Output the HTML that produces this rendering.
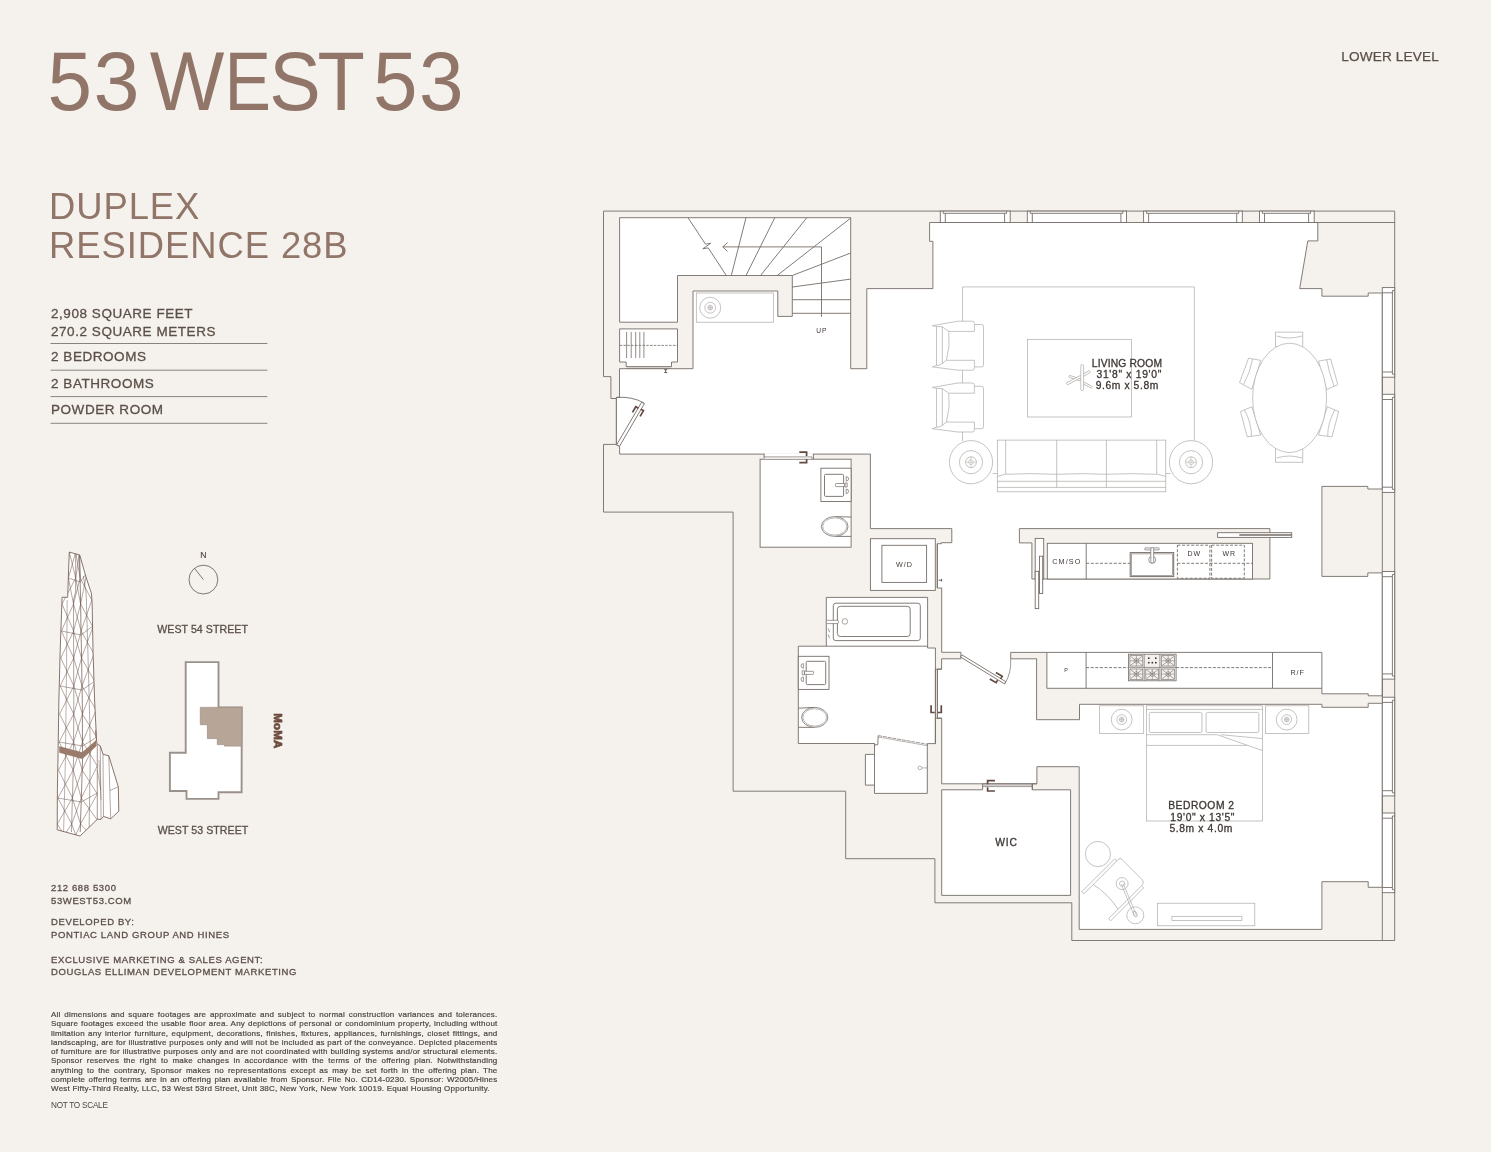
<!DOCTYPE html>
<html lang="en">
<head>
<meta charset="utf-8">
<title>53 West 53 - Duplex Residence 28B - Lower Level</title>
<style>
html,body{margin:0;padding:0;}
body{width:1491px;height:1152px;overflow:hidden;background:#f5f2ed;position:relative;font-family:"Liberation Sans",sans-serif;}
svg{position:absolute;left:0;top:0;will-change:transform;}
svg text{font-family:"Liberation Sans",sans-serif;}
.disc{will-change:transform;position:absolute;left:51.2px;top:1009.6px;width:446.5px;font-size:8px;letter-spacing:0.225px;line-height:9.275px;color:#4d4541;-webkit-text-stroke:0.2px #4d4541;}
.disc div{text-align:justify;text-align-last:justify;white-space:nowrap;height:9.275px;}
.disc div.last{text-align-last:left;}
.nts{will-change:transform;position:absolute;left:51px;top:1101.1px;font-size:8.2px;line-height:10px;color:#4d4541;letter-spacing:-0.25px;}
</style>
</head>
<body>
<svg width="1491" height="1152" viewBox="0 0 1491 1152">
<g id="plan" stroke-linejoin="miter">
<polygon points="603.5,211.1 1394.7,211.1 1394.7,940.5 1071.8,940.5 1071.8,902.8 934.9,902.8 934.9,858.7 845.7,858.7 845.7,791.2 733.1,791.2 733.1,512.1 603.5,512.1 603.5,444.4 616.4,444.4 616.4,398.5 610.9,398.5 610.9,376.6 603.5,376.6" fill="#f5f2ed" stroke="#756d68" stroke-width="0.9" />
<polygon points="619.6,217.7 850.7,217.7 850.7,368.7 866.8,368.7 866.8,288.6 932.9,288.6 932.9,241.3 929.6,241.3 929.6,222.5 1317.8,222.5 1317.8,240.9 1307.8,240.9 1299.7,288.6 1321.9,288.6 1321.9,296.2 1368.2,296.2 1368.2,293.0 1382.3,293.0 1382.3,489.0 1367.8,489.0 1367.8,486.4 1321.9,486.4 1321.9,576.4 1367.8,576.4 1367.8,572.9 1382.3,572.9 1382.3,887.3 1368.2,887.3 1368.2,881.7 1321.9,881.7 1321.9,929.4 1079.2,929.4 1079.2,766.7 1036.9,766.7 1036.9,783.8 941.7,783.8 941.7,718.2 937.4,718.2 937.4,669.2 941.6,669.2 941.6,658.8 960.9,658.8 960.9,652.3 941.7,652.3 941.7,588.0 937.3,588.0 937.3,543.7 941.3,543.7 941.3,542.7 951.8,542.7 951.8,528.6 870.4,528.6 870.4,454.1 619.6,454.1 619.6,446.3 616.4,445.0 616.4,397.4 619.5,397.4 619.5,368.7 693.0,368.7 693.0,291.0 777.8,291.0 777.8,316.4 792.3,316.4 792.3,275.5 677.5,275.5 677.5,322.2 619.6,322.2" fill="#ffffff" stroke="#756d68" stroke-width="0.9" />
<rect x="940.3" y="211.1" width="69.9" height="11.4" rx="0" fill="#ffffff" stroke="#756d68" stroke-width="0.9" />
<line x1="943.2" y1="213.3" x2="1006.6" y2="213.3" stroke="#756d68" stroke-width="0.9" />
<line x1="943.2" y1="211.1" x2="943.2" y2="213.3" stroke="#756d68" stroke-width="0.9" />
<line x1="1006.6" y1="211.1" x2="1006.6" y2="213.3" stroke="#756d68" stroke-width="0.9" />
<line x1="945.3" y1="213.3" x2="945.3" y2="222.5" stroke="#756d68" stroke-width="0.9" />
<line x1="1004.6" y1="213.3" x2="1004.6" y2="222.5" stroke="#756d68" stroke-width="0.9" />
<rect x="1027.3" y="211.1" width="99.2" height="11.4" rx="0" fill="#ffffff" stroke="#756d68" stroke-width="0.9" />
<line x1="1030.2" y1="213.3" x2="1122.9" y2="213.3" stroke="#756d68" stroke-width="0.9" />
<line x1="1030.2" y1="211.1" x2="1030.2" y2="213.3" stroke="#756d68" stroke-width="0.9" />
<line x1="1122.9" y1="211.1" x2="1122.9" y2="213.3" stroke="#756d68" stroke-width="0.9" />
<line x1="1032.3" y1="213.3" x2="1032.3" y2="222.5" stroke="#756d68" stroke-width="0.9" />
<line x1="1120.9" y1="213.3" x2="1120.9" y2="222.5" stroke="#756d68" stroke-width="0.9" />
<rect x="1143.6" y="211.1" width="98.7" height="11.4" rx="0" fill="#ffffff" stroke="#756d68" stroke-width="0.9" />
<line x1="1146.5" y1="213.3" x2="1238.7" y2="213.3" stroke="#756d68" stroke-width="0.9" />
<line x1="1146.5" y1="211.1" x2="1146.5" y2="213.3" stroke="#756d68" stroke-width="0.9" />
<line x1="1238.7" y1="211.1" x2="1238.7" y2="213.3" stroke="#756d68" stroke-width="0.9" />
<line x1="1148.6" y1="213.3" x2="1148.6" y2="222.5" stroke="#756d68" stroke-width="0.9" />
<line x1="1236.7" y1="213.3" x2="1236.7" y2="222.5" stroke="#756d68" stroke-width="0.9" />
<rect x="1259.5" y="211.1" width="54.7" height="11.4" rx="0" fill="#ffffff" stroke="#756d68" stroke-width="0.9" />
<line x1="1262.4" y1="213.3" x2="1310.6" y2="213.3" stroke="#756d68" stroke-width="0.9" />
<line x1="1262.4" y1="211.1" x2="1262.4" y2="213.3" stroke="#756d68" stroke-width="0.9" />
<line x1="1310.6" y1="211.1" x2="1310.6" y2="213.3" stroke="#756d68" stroke-width="0.9" />
<line x1="1264.5" y1="213.3" x2="1264.5" y2="222.5" stroke="#756d68" stroke-width="0.9" />
<line x1="1308.6" y1="213.3" x2="1308.6" y2="222.5" stroke="#756d68" stroke-width="0.9" />
<line x1="1314.2" y1="222.5" x2="1394.7" y2="222.5" stroke="#756d68" stroke-width="0.9" />
<rect x="1382.3" y="287.6" width="12.4" height="89.6" rx="0" fill="#ffffff" stroke="#756d68" stroke-width="0.9" />
<line x1="1392.4" y1="290.6" x2="1392.4" y2="374.2" stroke="#756d68" stroke-width="0.9" />
<line x1="1392.4" y1="290.6" x2="1394.7" y2="290.6" stroke="#756d68" stroke-width="0.9" />
<line x1="1392.4" y1="374.2" x2="1394.7" y2="374.2" stroke="#756d68" stroke-width="0.9" />
<line x1="1382.3" y1="292.8" x2="1392.4" y2="292.8" stroke="#756d68" stroke-width="0.9" />
<line x1="1382.3" y1="372.0" x2="1392.4" y2="372.0" stroke="#756d68" stroke-width="0.9" />
<rect x="1382.3" y="394.3" width="12.4" height="98.1" rx="0" fill="#ffffff" stroke="#756d68" stroke-width="0.9" />
<line x1="1392.4" y1="397.3" x2="1392.4" y2="489.4" stroke="#756d68" stroke-width="0.9" />
<line x1="1392.4" y1="397.3" x2="1394.7" y2="397.3" stroke="#756d68" stroke-width="0.9" />
<line x1="1392.4" y1="489.4" x2="1394.7" y2="489.4" stroke="#756d68" stroke-width="0.9" />
<line x1="1382.3" y1="399.5" x2="1392.4" y2="399.5" stroke="#756d68" stroke-width="0.9" />
<line x1="1382.3" y1="487.2" x2="1392.4" y2="487.2" stroke="#756d68" stroke-width="0.9" />
<rect x="1382.3" y="571.5" width="12.4" height="107.6" rx="0" fill="#ffffff" stroke="#756d68" stroke-width="0.9" />
<line x1="1392.4" y1="574.5" x2="1392.4" y2="676.1" stroke="#756d68" stroke-width="0.9" />
<line x1="1392.4" y1="574.5" x2="1394.7" y2="574.5" stroke="#756d68" stroke-width="0.9" />
<line x1="1392.4" y1="676.1" x2="1394.7" y2="676.1" stroke="#756d68" stroke-width="0.9" />
<line x1="1382.3" y1="576.7" x2="1392.4" y2="576.7" stroke="#756d68" stroke-width="0.9" />
<line x1="1382.3" y1="673.9" x2="1392.4" y2="673.9" stroke="#756d68" stroke-width="0.9" />
<rect x="1382.3" y="697.2" width="12.4" height="98.7" rx="0" fill="#ffffff" stroke="#756d68" stroke-width="0.9" />
<line x1="1392.4" y1="700.2" x2="1392.4" y2="792.9" stroke="#756d68" stroke-width="0.9" />
<line x1="1392.4" y1="700.2" x2="1394.7" y2="700.2" stroke="#756d68" stroke-width="0.9" />
<line x1="1392.4" y1="792.9" x2="1394.7" y2="792.9" stroke="#756d68" stroke-width="0.9" />
<line x1="1382.3" y1="702.4" x2="1392.4" y2="702.4" stroke="#756d68" stroke-width="0.9" />
<line x1="1382.3" y1="790.7" x2="1392.4" y2="790.7" stroke="#756d68" stroke-width="0.9" />
<rect x="1382.3" y="813.0" width="12.4" height="79.7" rx="0" fill="#ffffff" stroke="#756d68" stroke-width="0.9" />
<line x1="1392.4" y1="816.0" x2="1392.4" y2="889.7" stroke="#756d68" stroke-width="0.9" />
<line x1="1392.4" y1="816.0" x2="1394.7" y2="816.0" stroke="#756d68" stroke-width="0.9" />
<line x1="1392.4" y1="889.7" x2="1394.7" y2="889.7" stroke="#756d68" stroke-width="0.9" />
<line x1="1382.3" y1="818.2" x2="1392.4" y2="818.2" stroke="#756d68" stroke-width="0.9" />
<line x1="1382.3" y1="887.5" x2="1392.4" y2="887.5" stroke="#756d68" stroke-width="0.9" />
<line x1="1382.3" y1="377.2" x2="1382.3" y2="394.3" stroke="#756d68" stroke-width="0.9" />
<line x1="1382.3" y1="492.4" x2="1382.3" y2="571.5" stroke="#756d68" stroke-width="0.9" />
<line x1="1382.3" y1="679.1" x2="1382.3" y2="697.2" stroke="#756d68" stroke-width="0.9" />
<line x1="1382.3" y1="795.9" x2="1382.3" y2="813.0" stroke="#756d68" stroke-width="0.9" />
<line x1="1382.3" y1="892.7" x2="1382.3" y2="940.5" stroke="#756d68" stroke-width="0.9" />
<polygon points="1010.7,652.4 1046.9,652.4 1046.9,688.3 1321.9,688.3 1321.9,693.8 1368.2,693.8 1368.2,695.8 1382.3,695.8 1382.3,703.3 1368.2,703.3 1368.2,707.3 1321.9,707.3 1321.9,704.3 1079.5,704.3 1079.5,719.7 1036.6,719.7 1036.6,658.8 1010.7,658.8" fill="#f5f2ed" stroke="#756d68" stroke-width="0.9" />
<line x1="1046.9" y1="652.4" x2="1321.9" y2="652.4" stroke="#756d68" stroke-width="0.9" />
<line x1="1321.9" y1="652.4" x2="1321.9" y2="688.3" stroke="#756d68" stroke-width="0.9" />
<line x1="1086.1" y1="652.4" x2="1086.1" y2="688.3" stroke="#756d68" stroke-width="0.9" />
<line x1="1272.5" y1="652.4" x2="1272.5" y2="688.3" stroke="#756d68" stroke-width="0.9" />
<line x1="1086.1" y1="667.6" x2="1128.4" y2="667.6" stroke="#756d68" stroke-width="0.9" stroke-dasharray="3 1.6"/>
<line x1="1176.1" y1="667.6" x2="1272.5" y2="667.6" stroke="#756d68" stroke-width="0.9" stroke-dasharray="3 1.6"/>
<rect x="1128.4" y="654.2" width="47.7" height="26.6" rx="0" fill="#f3f1ef" stroke="#756d68" stroke-width="0.8" />
<rect x="1129.9" y="655.7" width="12.9" height="10.3" rx="0" fill="none" stroke="#756d68" stroke-width="0.6" />
<line x1="1130.4" y1="656.2" x2="1142.3" y2="665.5" stroke="#756d68" stroke-width="0.6" />
<line x1="1142.3" y1="656.2" x2="1130.4" y2="665.5" stroke="#756d68" stroke-width="0.6" />
<line x1="1136.4" y1="655.7" x2="1136.4" y2="666.0" stroke="#756d68" stroke-width="0.5" />
<line x1="1129.9" y1="660.8" x2="1142.8" y2="660.8" stroke="#756d68" stroke-width="0.5" />
<circle cx="1136.4" cy="660.8" r="2.4" fill="none" stroke="#756d68" stroke-width="0.5"/>
<rect x="1129.9" y="669.0" width="12.9" height="10.3" rx="0" fill="none" stroke="#756d68" stroke-width="0.6" />
<line x1="1130.4" y1="669.5" x2="1142.3" y2="678.8" stroke="#756d68" stroke-width="0.6" />
<line x1="1142.3" y1="669.5" x2="1130.4" y2="678.8" stroke="#756d68" stroke-width="0.6" />
<line x1="1136.4" y1="669.0" x2="1136.4" y2="679.3" stroke="#756d68" stroke-width="0.5" />
<line x1="1129.9" y1="674.1" x2="1142.8" y2="674.1" stroke="#756d68" stroke-width="0.5" />
<circle cx="1136.4" cy="674.1" r="2.4" fill="none" stroke="#756d68" stroke-width="0.5"/>
<circle cx="1148.8" cy="658.2" r="0.9" fill="#3d3531"/>
<circle cx="1155.8" cy="658.2" r="0.9" fill="#3d3531"/>
<circle cx="1148.8" cy="662.7" r="0.9" fill="#3d3531"/>
<circle cx="1152.3" cy="662.7" r="0.9" fill="#3d3531"/>
<circle cx="1155.8" cy="662.7" r="0.9" fill="#3d3531"/>
<rect x="1145.8" y="669.0" width="12.9" height="10.3" rx="0" fill="none" stroke="#756d68" stroke-width="0.6" />
<line x1="1146.3" y1="669.5" x2="1158.2" y2="678.8" stroke="#756d68" stroke-width="0.6" />
<line x1="1158.2" y1="669.5" x2="1146.3" y2="678.8" stroke="#756d68" stroke-width="0.6" />
<line x1="1152.3" y1="669.0" x2="1152.3" y2="679.3" stroke="#756d68" stroke-width="0.5" />
<line x1="1145.8" y1="674.1" x2="1158.7" y2="674.1" stroke="#756d68" stroke-width="0.5" />
<circle cx="1152.3" cy="674.1" r="2.4" fill="none" stroke="#756d68" stroke-width="0.5"/>
<rect x="1161.7" y="655.7" width="12.9" height="10.3" rx="0" fill="none" stroke="#756d68" stroke-width="0.6" />
<line x1="1162.2" y1="656.2" x2="1174.1" y2="665.5" stroke="#756d68" stroke-width="0.6" />
<line x1="1174.1" y1="656.2" x2="1162.2" y2="665.5" stroke="#756d68" stroke-width="0.6" />
<line x1="1168.2" y1="655.7" x2="1168.2" y2="666.0" stroke="#756d68" stroke-width="0.5" />
<line x1="1161.7" y1="660.8" x2="1174.6" y2="660.8" stroke="#756d68" stroke-width="0.5" />
<circle cx="1168.2" cy="660.8" r="2.4" fill="none" stroke="#756d68" stroke-width="0.5"/>
<rect x="1161.7" y="669.0" width="12.9" height="10.3" rx="0" fill="none" stroke="#756d68" stroke-width="0.6" />
<line x1="1162.2" y1="669.5" x2="1174.1" y2="678.8" stroke="#756d68" stroke-width="0.6" />
<line x1="1174.1" y1="669.5" x2="1162.2" y2="678.8" stroke="#756d68" stroke-width="0.6" />
<line x1="1168.2" y1="669.0" x2="1168.2" y2="679.3" stroke="#756d68" stroke-width="0.5" />
<line x1="1161.7" y1="674.1" x2="1174.6" y2="674.1" stroke="#756d68" stroke-width="0.5" />
<circle cx="1168.2" cy="674.1" r="2.4" fill="none" stroke="#756d68" stroke-width="0.5"/>
<line x1="1144.2" y1="654.2" x2="1144.2" y2="680.8" stroke="#756d68" stroke-width="0.7" />
<line x1="1159.9" y1="654.2" x2="1159.9" y2="680.8" stroke="#756d68" stroke-width="0.7" />
<line x1="1128.4" y1="667.4" x2="1176.1" y2="667.4" stroke="#756d68" stroke-width="0.7" />
<polygon points="1019.4,528.6 1269.9,528.6 1269.9,579.0 1031.9,579.0 1031.9,542.9 1019.4,542.9" fill="#f5f2ed" stroke="#756d68" stroke-width="0.9" />
<rect x="1047.3" y="543.3" width="205.2" height="35.7" rx="0" fill="#ffffff" stroke="#756d68" stroke-width="0.9" />
<line x1="1086.2" y1="543.3" x2="1086.2" y2="579.0" stroke="#756d68" stroke-width="0.9" />
<line x1="1086.2" y1="563.3" x2="1130.2" y2="563.3" stroke="#756d68" stroke-width="0.9" stroke-dasharray="3 1.6"/>
<rect x="1130.2" y="552.6" width="43.5" height="24.0" rx="0" fill="#ffffff" stroke="#756d68" stroke-width="1.0" />
<rect x="1131.5" y="553.9" width="40.9" height="21.4" rx="0" fill="#ffffff" stroke="#756d68" stroke-width="0.6" />
<circle cx="1152.2" cy="559.8" r="3.5" fill="#ffffff" stroke="#756d68" stroke-width="0.7"/>
<rect x="1144.7" y="547.9" width="14.6" height="2.0" rx="0.8" fill="#ffffff" stroke="#756d68" stroke-width="0.7" />
<rect x="1150.8" y="547.6" width="2.9" height="15.4" rx="1.3" fill="#ffffff" stroke="#756d68" stroke-width="0.7" />
<rect x="1177.4" y="545.2" width="32.5" height="33.1" rx="0" fill="none" stroke="#756d68" stroke-width="0.9" stroke-dasharray="3 1.6"/>
<rect x="1211.6" y="545.2" width="32.7" height="33.1" rx="0" fill="none" stroke="#756d68" stroke-width="0.9" stroke-dasharray="3 1.6"/>
<line x1="1177.4" y1="563.3" x2="1252.5" y2="563.3" stroke="#756d68" stroke-width="0.9" stroke-dasharray="3 1.6"/>
<rect x="1035.2" y="538.4" width="8.5" height="40.6" rx="0" fill="#ffffff" stroke="#756d68" stroke-width="0.9" />
<rect x="1039.5" y="556.2" width="3.2" height="37.3" rx="0" fill="#ffffff" stroke="#756d68" stroke-width="0.9" />
<rect x="1035.2" y="571.3" width="3.5" height="37.3" rx="0" fill="#ffffff" stroke="#756d68" stroke-width="0.9" />
<rect x="1217.6" y="532.7" width="74.1" height="4.7" rx="0" fill="#ffffff" stroke="#756d68" stroke-width="0.9" />
<line x1="1239.3" y1="535.0" x2="1291.7" y2="535.0" stroke="#756d68" stroke-width="1.6" />
<line x1="792.3" y1="313.3" x2="850.7" y2="313.3" stroke="#756d68" stroke-width="0.9" />
<line x1="792.3" y1="299.7" x2="850.7" y2="299.7" stroke="#756d68" stroke-width="0.9" />
<line x1="792.3" y1="287.0" x2="850.7" y2="279.1" stroke="#756d68" stroke-width="0.9" />
<line x1="792.3" y1="275.5" x2="850.7" y2="253.0" stroke="#756d68" stroke-width="0.9" />
<line x1="777.2" y1="275.5" x2="850.7" y2="218.1" stroke="#756d68" stroke-width="0.9" />
<line x1="760.5" y1="275.5" x2="806.8" y2="217.7" stroke="#756d68" stroke-width="0.9" />
<line x1="746.0" y1="275.5" x2="774.8" y2="217.7" stroke="#756d68" stroke-width="0.9" />
<line x1="731.3" y1="275.5" x2="746.0" y2="217.7" stroke="#756d68" stroke-width="0.9" />
<polyline points="688.0,217.7 705.5,244.2 710.8,243.2 702.8,248.8 708.2,247.9 726.3,275.5" fill="none" stroke="#756d68" stroke-width="0.9" />
<polyline points="722.8,246.9 821.5,246.9 821.5,316.8" fill="none" stroke="#756d68" stroke-width="0.9" />
<polyline points="727.5,242.6 722.8,246.9 727.5,251.5" fill="none" stroke="#756d68" stroke-width="0.9" />
<polygon points="619.6,328.9 677.5,328.9 677.5,362.0 671.5,362.0 671.5,366.6 626.2,366.6 626.2,362.0 619.6,362.0" fill="#ffffff" stroke="#756d68" stroke-width="0.9" />
<line x1="626.6" y1="331.9" x2="626.6" y2="358.0" stroke="#756d68" stroke-width="0.8" />
<line x1="631.2" y1="331.9" x2="631.2" y2="358.0" stroke="#756d68" stroke-width="0.8" />
<line x1="635.7" y1="331.9" x2="635.7" y2="358.0" stroke="#756d68" stroke-width="0.8" />
<line x1="639.8" y1="331.9" x2="639.8" y2="358.0" stroke="#756d68" stroke-width="0.8" />
<line x1="643.9" y1="331.9" x2="643.9" y2="358.0" stroke="#756d68" stroke-width="0.8" />
<line x1="619.6" y1="345.4" x2="677.5" y2="345.4" stroke="#756d68" stroke-width="0.8" stroke-dasharray="2.6 1.2"/>
<line x1="626.2" y1="368.2" x2="671.5" y2="368.2" stroke="#756d68" stroke-width="0.6" />
<path d="M616.4,397.4 Q632,396.2 644.0,403.0" fill="none" stroke="#756d68" stroke-width="0.9" />
<polygon points="641.6,402.3 644.4,403.6 619.5,446.3 616.7,444.7" fill="#ffffff" stroke="#756d68" stroke-width="0.9" />
<rect x="760.1" y="459.2" width="91.0" height="88.0" rx="0" fill="#ffffff" stroke="#756d68" stroke-width="0.9" />
<rect x="820.9" y="468.2" width="30.2" height="33.3" rx="0" fill="#ffffff" stroke="#756d68" stroke-width="0.9" />
<rect x="824.5" y="474.3" width="19.1" height="22.1" rx="1.2" fill="#ffffff" stroke="#756d68" stroke-width="0.9" />
<line x1="851.1" y1="517.0" x2="835.0" y2="516.7" stroke="#756d68" stroke-width="0.9" />
<line x1="851.1" y1="536.4" x2="835.0" y2="536.4" stroke="#756d68" stroke-width="0.9" />
<ellipse cx="834.7" cy="526.5" rx="13.3" ry="9.9" fill="#ffffff" stroke="#756d68" stroke-width="0.8" />
<ellipse cx="834.7" cy="526.5" rx="12.0" ry="8.6" fill="#ffffff" stroke="#756d68" stroke-width="0.5" />
<rect x="764.6" y="453.2" width="48.3" height="5.4" fill="#fff" stroke="none"/>
<polyline points="764.1,454.1 764.1,458.3" fill="none" stroke="#756d68" stroke-width="0.9" />
<polyline points="813.4,454.1 813.4,459.2" fill="none" stroke="#756d68" stroke-width="0.9" />
<line x1="764.1" y1="456.9" x2="812.0" y2="456.9" stroke="#756d68" stroke-width="0.7" />
<line x1="812.0" y1="456.9" x2="812.0" y2="459.2" stroke="#756d68" stroke-width="0.7" />
<rect x="870.4" y="538.7" width="64.9" height="51.7" rx="0" fill="#ffffff" stroke="#756d68" stroke-width="0.9" />
<rect x="881.9" y="545.3" width="44.7" height="37.1" rx="0" fill="#ffffff" stroke="#756d68" stroke-width="0.9" />
<line x1="937.3" y1="543.7" x2="937.3" y2="588.0" stroke="#756d68" stroke-width="0.9" />
<polygon points="826.3,597.4 927.6,597.4 927.6,648.0 935.4,648.0 935.4,743.6 927.3,743.6 927.3,793.4 874.5,793.4 874.5,785.1 865.4,785.1 865.4,754.4 874.5,754.4 874.5,743.5 798.3,743.5 798.3,646.2 826.3,646.2" fill="#ffffff" stroke="#756d68" stroke-width="0.9" />
<line x1="826.3" y1="646.2" x2="927.6" y2="646.2" stroke="#756d68" stroke-width="0.9" />
<rect x="833.3" y="603.2" width="87.0" height="37.4" rx="2.5" fill="#ffffff" stroke="#756d68" stroke-width="0.9" />
<rect x="837.4" y="606.3" width="72.8" height="30.2" rx="3" fill="#ffffff" stroke="#756d68" stroke-width="0.9" />
<rect x="826.3" y="620.3" width="12.1" height="3.3" rx="1" fill="#ffffff" stroke="#756d68" stroke-width="0.7" />
<circle cx="844.9" cy="621.4" r="2.8" fill="none" stroke="#756d68" stroke-width="0.6"/>
<rect x="798.3" y="656.3" width="30.7" height="33.1" rx="0" fill="#ffffff" stroke="#756d68" stroke-width="0.9" />
<rect x="806.2" y="661.3" width="19.5" height="23.3" rx="1.2" fill="#ffffff" stroke="#756d68" stroke-width="0.9" />
<line x1="798.3" y1="708.2" x2="814.0" y2="707.4" stroke="#756d68" stroke-width="0.9" />
<line x1="798.3" y1="727.3" x2="814.0" y2="727.4" stroke="#756d68" stroke-width="0.9" />
<ellipse cx="814.7" cy="717.4" rx="13.1" ry="10.0" fill="#ffffff" stroke="#756d68" stroke-width="0.8" />
<ellipse cx="814.7" cy="717.4" rx="11.8" ry="8.7" fill="#ffffff" stroke="#756d68" stroke-width="0.5" />
<line x1="874.5" y1="754.4" x2="874.5" y2="785.1" stroke="#756d68" stroke-width="0.9" />
<polyline points="874.5,743.6 874.8,745.0 877.8,744.6 878.2,735.6" fill="none" stroke="#756d68" stroke-width="0.9" />
<line x1="878.2" y1="735.6" x2="927.3" y2="744.3" stroke="#756d68" stroke-width="0.7" stroke-dasharray="4 0.8"/>
<line x1="878.2" y1="737.0" x2="927.3" y2="745.7" stroke="#756d68" stroke-width="0.5" />
<circle cx="919.9" cy="767.9" r="1.8" fill="none" stroke="#756d68" stroke-width="0.5"/>
<line x1="922.0" y1="767.9" x2="927.3" y2="767.9" stroke="#756d68" stroke-width="0.5" />
<line x1="935.4" y1="669.2" x2="935.4" y2="718.2" stroke="#756d68" stroke-width="0.7" />
<line x1="937.4" y1="669.2" x2="937.4" y2="718.2" stroke="#756d68" stroke-width="0.7" />
<line x1="935.4" y1="743.6" x2="935.4" y2="718.2" stroke="#756d68" stroke-width="0.9" />
<polyline points="935.4,718.2 941.7,718.2" fill="none" stroke="#756d68" stroke-width="0.9" />
<polyline points="935.4,669.2 941.6,669.2" fill="none" stroke="#756d68" stroke-width="0.9" />
<polygon points="960.6,657.0 962.0,654.9 1005.8,681.7 1004.5,683.9" fill="#ffffff" stroke="#756d68" stroke-width="0.9" />
<path d="M1010.7,658.8 Q1011.5,672.5 1005.0,683.6" fill="none" stroke="#756d68" stroke-width="0.7" />
<polygon points="941.7,789.8 982.6,789.8 982.6,783.8 1032.3,783.8 1032.3,789.8 1070.6,789.8 1070.6,895.4 941.7,895.4" fill="#ffffff" stroke="#756d68" stroke-width="0.9" />
<line x1="982.6" y1="785.0" x2="1032.3" y2="785.0" stroke="#756d68" stroke-width="0.7" />
<line x1="982.6" y1="786.6" x2="1032.3" y2="786.6" stroke="#756d68" stroke-width="0.7" />
<polyline points="1036.9,783.8 1032.3,783.8 1032.3,789.8" fill="none" stroke="#756d68" stroke-width="0.9" />
<g transform="translate(936.2,712.5) rotate(90)" stroke="#624a43" stroke-width="1.7" fill="none" stroke-linejoin="miter"><path d="M0,-1.5 V-5.1 H-7.3 M0.0,1.5 V5.1 H-7.3"/></g>
<g transform="translate(1000.0,680.0) rotate(30.9)" stroke="#624a43" stroke-width="1.7" fill="none" stroke-linejoin="miter"><path d="M0,-1.3 V-4.3 H-7.3 M-2.0,1.3 V4.3 H-9.3"/></g>
<g transform="translate(987.6,785.8) rotate(180)" stroke="#624a43" stroke-width="1.7" fill="none" stroke-linejoin="miter"><path d="M0,-1.5 V-5.2 H-7.3 M0.0,1.5 V5.2 H-7.3"/></g>
<g transform="translate(806.6,457.4) rotate(0)" stroke="#624a43" stroke-width="1.7" fill="none" stroke-linejoin="miter"><path d="M0,-1.5 V-5.2 H-7.3 M0.0,1.5 V5.2 H-7.3"/></g>
<g transform="translate(639.5,408.9) rotate(-59.6)" stroke="#624a43" stroke-width="1.7" fill="none" stroke-linejoin="miter"><path d="M0,-1.3 V-4.3 H-6.6 M0.5,1.3 V4.3 H-6.1"/></g>
<path d="M664.2,369.7 h3 m-1.5,0 v2.8 m-1.5,0 h3" stroke="#624a43" stroke-width="0.9" fill="none"/>
<path d="M938.6,580.2 h3 m0,-1.3 v2.6" stroke="#624a43" stroke-width="0.9" fill="none"/>
<g stroke="#756d68" stroke-width="0.7" fill="none">
<rect x="835.5" y="483.5" width="9.2" height="3.1" rx="0.8" fill="#fff"/>
<path d="M846.2,476.6 q2.6,0.2 2.4,2.4 q-0.2,2 -2.4,2.2 z M846.2,489.0 q2.6,0.2 2.4,2.4 q-0.2,2 -2.4,2.2 z M845.0,483.0 h2.2 v4 h-2.2 z" fill="none"/>
<rect x="804.6" y="671.3" width="8.9" height="3.1" rx="0.8" fill="#fff"/>
<path d="M803.4,663.6 q-2.6,0.2 -2.4,2.4 q0.2,2 2.4,2.2 z M803.4,677.0 q-2.6,0.2 -2.4,2.4 q0.2,2 2.4,2.2 z M804.4,670.8 h-2.2 v4 h2.2 z" fill="none"/>
<path d="M828.2,628.5 l1.4,3.8 M828.2,634.5 l1.4,3.8"/>
</g>
<g stroke="#aeaaa7" stroke-width="0.7" fill="none">
<polyline points="1194.3,440.5 1194.3,286.9 962.5,286.9 962.5,441"/>
<rect x="1027.5" y="339.3" width="104.1" height="77.7" fill="#fff"/>
<g transform="translate(0,0.0)">
<rect x="936.5" y="326.0" width="40" height="40" fill="#fff" stroke="none"/>
<path d="M974.4,324.5 H981.5 Q983.5,324.5 983.5,326.5 V364.9 Q983.5,366.9 981.5,366.9 H974.4" fill="#fff"/>
<path d="M932.4,325.7 L957.9,321.2 H972.4 Q974.4,321.2 974.4,323.2 V331.4 H948.8 L942.3,326.8 L936.5,326.5 Z" fill="#fff"/>
<path d="M932.4,366.9 L957.9,370.2 H972.4 Q974.4,370.2 974.4,368.2 V360.3 H946.4 L940,365 L936.5,365.4 Z" fill="#fff"/>
<path d="M936.5,326.5 V365.4 M942.3,326.8 V364 M948.8,331.4 Q950.4,346 946.4,360.3"/>
</g>
<g transform="translate(0,61.8)">
<rect x="936.5" y="326.0" width="40" height="40" fill="#fff" stroke="none"/>
<path d="M974.4,324.5 H981.5 Q983.5,324.5 983.5,326.5 V364.9 Q983.5,366.9 981.5,366.9 H974.4" fill="#fff"/>
<path d="M932.4,325.7 L957.9,321.2 H972.4 Q974.4,321.2 974.4,323.2 V331.4 H948.8 L942.3,326.8 L936.5,326.5 Z" fill="#fff"/>
<path d="M932.4,366.9 L957.9,370.2 H972.4 Q974.4,370.2 974.4,368.2 V360.3 H946.4 L940,365 L936.5,365.4 Z" fill="#fff"/>
<path d="M936.5,326.5 V365.4 M942.3,326.8 V364 M948.8,331.4 Q950.4,346 946.4,360.3"/>
</g>
<circle cx="971.0" cy="462.2" r="21.6" fill="#fff"/>
<circle cx="971.0" cy="462.2" r="11.6"/>
<circle cx="971.0" cy="462.2" r="5.4"/>
<path d="M965.6,462.2 h10.8 M971.0,456.8 v10.8" stroke-width="0.5"/>
<circle cx="971.0" cy="462.2" r="2.4" stroke-width="0.5"/>
<circle cx="1191.0" cy="462.2" r="21.6" fill="#fff"/>
<circle cx="1191.0" cy="462.2" r="11.6"/>
<circle cx="1191.0" cy="462.2" r="5.4"/>
<path d="M1185.6,462.2 h10.8 M1191.0,456.8 v10.8" stroke-width="0.5"/>
<circle cx="1191.0" cy="462.2" r="2.4" stroke-width="0.5"/>
<rect x="997.3" y="440.1" width="168.5" height="51.7" fill="#fff"/>
<path d="M997.3,481.3 H1165.8 M997.3,487.4 H1165.8 M1056.7,440.1 V487.4 M1106.4,440.1 V487.4"/>
<path d="M1005.7,440.1 V474 L997.3,476.5 M1156.7,440.1 V474 L1165.8,476.5 M1005.7,474.3 Q1031,473 1056.7,474.3 Q1081,473 1106.4,474.3 Q1131,473 1156.7,474.3"/>
<path d="M992.6,473.5 H997.3 M1165.8,473.5 H1170.6"/>
<rect x="0" y="-1.0" width="12.3" height="2.0" rx="1.0" fill="#fff" transform="translate(1068.9,376.2) rotate(18.0)"/>
<rect x="0" y="-1.0" width="9.5" height="2.0" rx="1.0" fill="#fff" transform="translate(1083.5,383.0) rotate(27.6)"/>
<rect x="0" y="-1.1" width="26.6" height="2.2" rx="1.1" fill="#fff" transform="translate(1066.6,384.1) rotate(-28.3)"/>
<rect x="0" y="-1.4" width="26.1" height="2.8" rx="1.4" fill="#fff" transform="translate(1082.2,364.6) rotate(90.0)"/>
<rect x="1275.5" y="332.1" width="27.3" height="14.5" fill="#fff"/><path d="M1276.5,336 Q1289,340 1302,336"/>
<rect x="1275.5" y="448.8" width="27.3" height="13.4" fill="#fff"/><path d="M1276.5,458 Q1289,454 1302,458"/>
<polygon points="1248.6,358.1 1260.7,360.4 1251.9,389.3 1239.5,382.6" fill="#fff"/>
<path d="M1252.5,359.2 Q1250.5,372.0 1243.5,384.6"/>
<polygon points="1330.7,359.0 1318.5,361.1 1326.6,389.7 1337.8,384.6" fill="#fff"/>
<path d="M1326.8,360.0 Q1328.8,372.0 1334.0,386.2"/>
<polygon points="1240.5,411.5 1251.9,406.8 1260.7,435.1 1247.2,436.8" fill="#fff"/>
<path d="M1244.5,410.0 Q1251.5,423.0 1251.5,436.2"/>
<polygon points="1338.7,411.5 1327.3,406.8 1318.5,435.1 1332.0,436.8" fill="#fff"/>
<path d="M1334.7,410.0 Q1327.7,423.0 1327.7,436.2"/>
<ellipse cx="1289.6" cy="397.9" rx="37" ry="54.7" fill="#fff"/>
<rect x="696.3" y="293.0" width="77.3" height="29.2" fill="#fff"/>
<circle cx="710.2" cy="307.7" r="10.5" fill="#fff"/>
<circle cx="710.2" cy="307.7" r="5.4"/>
<circle cx="710.2" cy="307.7" r="2.4"/>
<path d="M707.8,307.7 h4.8 M710.2,305.3 v4.8" stroke-width="0.5"/>
<circle cx="710.2" cy="307.7" r="1.1" stroke-width="0.5"/>
<rect x="1099.4" y="705.8" width="44.3" height="27.8" fill="#fff"/>
<circle cx="1121.7" cy="719.6" r="10.4" fill="#fff"/>
<circle cx="1121.7" cy="719.6" r="4.9"/>
<circle cx="1121.7" cy="719.6" r="2.4"/>
<path d="M1119.3,719.6 h4.8 M1121.7,717.2 v4.8" stroke-width="0.5"/>
<circle cx="1121.7" cy="719.6" r="1.1" stroke-width="0.5"/>
<rect x="1265.5" y="705.8" width="43.3" height="27.8" fill="#fff"/>
<circle cx="1286.7" cy="719.6" r="10.4" fill="#fff"/>
<circle cx="1286.7" cy="719.6" r="4.9"/>
<circle cx="1286.7" cy="719.6" r="2.4"/>
<path d="M1284.3,719.6 h4.8 M1286.7,717.2 v4.8" stroke-width="0.5"/>
<circle cx="1286.7" cy="719.6" r="1.1" stroke-width="0.5"/>
<rect x="1146.4" y="705.8" width="116.2" height="115.2" fill="#fff"/>
<path d="M1146.4,709.4 H1262.6 M1146.4,734.7 H1217 M1146.4,745.4 H1247 M1217.2,734.7 L1262.6,750.6 M1221,734.7 L1262.6,738.6"/>
<rect x="1149.3" y="712.4" width="52.7" height="20.1" rx="1.5"/><rect x="1206.1" y="712.4" width="52.7" height="20.1" rx="1.5"/>
<rect x="1157.5" y="903.2" width="97.3" height="22.6" fill="#fff"/><rect x="1171.9" y="916.3" width="70" height="4.3"/>
<circle cx="1097.9" cy="854.0" r="12.6" fill="#fff"/>
<g transform="translate(1113.0,889.5) rotate(-45)">
<path d="M22.9,-17.5 H25 Q27.6,-17.5 27.6,-15 V12.5 Q27.6,17.5 23,17.5 H-23 V-17.5 Z" fill="#fff" stroke="none"/>
<path d="M22.9,-17.5 H25 Q27.6,-17.5 27.6,-15 V12.5 Q27.6,17.5 23,17.5"/>
<rect x="-23.7" y="-20.5" width="46.6" height="3" fill="#fff"/><rect x="-23.7" y="17.5" width="46.6" height="3" fill="#fff"/>
<path d="M-10.4,-17.5 Q-6.5,0 -10.4,17.5"/>
</g>
<circle cx="1122.1" cy="883.6" r="6" fill="#fff"/><circle cx="1122.1" cy="883.6" r="2.6"/>
<circle cx="1135.3" cy="915.3" r="8.5"/>
<path d="M1121.4,884.4 L1134.4,916.2 M1123.2,883.4 L1136.4,915.2"/><ellipse cx="1135.2" cy="914" rx="1.6" ry="3.2" transform="rotate(-22 1135.2 914)"/>
</g>
<g font-family="Liberation Sans, sans-serif" fill="#3f3733" stroke="#3f3733" stroke-width="0.3">
<text x="1127.0" y="367.1" font-size="10.3" fill="#3f3733" text-anchor="middle" letter-spacing="0.15">LIVING ROOM</text>
<text x="1129.3" y="378.3" font-size="10.3" fill="#3f3733" text-anchor="middle" letter-spacing="0.7">31'8&quot; x 19'0&quot;</text>
<text x="1127.3" y="389.2" font-size="10.3" fill="#3f3733" text-anchor="middle" letter-spacing="0.6">9.6m x 5.8m</text>
<text x="1201.4" y="809.3" font-size="10.3" fill="#3f3733" text-anchor="middle" letter-spacing="0.5">BEDROOM 2</text>
<text x="1202.7" y="820.6" font-size="10.3" fill="#3f3733" text-anchor="middle" letter-spacing="0.63">19'0&quot; x 13'5&quot;</text>
<text x="1201.2" y="831.6" font-size="10.3" fill="#3f3733" text-anchor="middle" letter-spacing="0.63">5.8m x 4.0m</text>
<text x="1006.5" y="846.2" font-size="10.3" fill="#3f3733" text-anchor="middle" letter-spacing="0.8">WIC</text>
</g>
<g font-family="Liberation Sans, sans-serif" fill="#3f3733" stroke="none">
<text x="1066.8" y="563.7" font-size="7.2" fill="#3f3733" text-anchor="middle" letter-spacing="1.1">CM/SO</text>
<text x="1194.3" y="556.3" font-size="7.0" fill="#3f3733" text-anchor="middle" letter-spacing="1.0">DW</text>
<text x="1229.3" y="556.3" font-size="7.0" fill="#3f3733" text-anchor="middle" letter-spacing="1.0">WR</text>
<text x="904.4" y="567.2" font-size="7.2" fill="#3f3733" text-anchor="middle" letter-spacing="1.0">W/D</text>
<text x="1297.7" y="675.0" font-size="7.2" fill="#3f3733" text-anchor="middle" letter-spacing="1.0">R/F</text>
<text x="1066.0" y="671.5" font-size="5.4" fill="#3f3733" text-anchor="middle" >P</text>
<text x="821.8" y="333.0" font-size="6.6" fill="#3f3733" text-anchor="middle" letter-spacing="1.0">UP</text>
</g>
</g>
<g id="left" font-family="Liberation Sans, sans-serif">
<text y="109.9" font-size="83.6" fill="#917568"><tspan x="47.5" textLength="44.5" lengthAdjust="spacingAndGlyphs">5</tspan><tspan x="93.5" textLength="46" lengthAdjust="spacingAndGlyphs">3</tspan> <tspan x="149.8" textLength="74.6" lengthAdjust="spacingAndGlyphs">W</tspan><tspan x="224.5" textLength="46.5" lengthAdjust="spacingAndGlyphs">E</tspan><tspan x="269.2" textLength="51.5" lengthAdjust="spacingAndGlyphs">S</tspan><tspan x="317.5" textLength="46" lengthAdjust="spacingAndGlyphs">T</tspan> <tspan x="373" textLength="44.5" lengthAdjust="spacingAndGlyphs">5</tspan><tspan x="419" textLength="44.5" lengthAdjust="spacingAndGlyphs">3</tspan></text>
<text x="49.0" y="219.3" font-size="36.4" fill="#917568" letter-spacing="0.95">DUPLEX</text>
<text x="49.0" y="257.5" font-size="36.4" fill="#917568" letter-spacing="0.95">RESIDENCE 28B</text>
<g font-size="13.5" fill="#5b4f48" stroke="#5b4f48" stroke-width="0.3" letter-spacing="0.55">
<text x="51.0" y="318.3">2,908 SQUARE FEET</text>
<text x="51.0" y="335.6">270.2 SQUARE METERS</text>
<text x="51.0" y="361.3">2 BEDROOMS</text>
<text x="51.0" y="387.7">2 BATHROOMS</text>
<text x="51.0" y="414.3">POWDER ROOM</text>
</g>
<line x1="50.5" y1="343.5" x2="267.4" y2="343.5" stroke="#8c827c" stroke-width="1.0" />
<line x1="50.5" y1="370.2" x2="267.4" y2="370.2" stroke="#8c827c" stroke-width="1.0" />
<line x1="50.5" y1="396.6" x2="267.4" y2="396.6" stroke="#8c827c" stroke-width="1.0" />
<line x1="50.5" y1="423.3" x2="267.4" y2="423.3" stroke="#8c827c" stroke-width="1.0" />
<text x="1341.3" y="60.8" font-size="13.6" fill="#5b4f48" stroke="#5b4f48" stroke-width="0.25" letter-spacing="0.15">LOWER LEVEL</text>
<text x="203.4" y="557.6" font-size="8.8" fill="#5b4f48" stroke="#5b4f48" stroke-width="0.2" text-anchor="middle">N</text>
<circle cx="203.4" cy="579.6" r="14.4" fill="none" stroke="#5f5650" stroke-width="0.8"/>
<line x1="203.4" y1="579.6" x2="194.8" y2="568.7" stroke="#5f5650" stroke-width="0.8" />
<g font-size="10.6" fill="#5b4f48" stroke="#5b4f48" stroke-width="0.3" letter-spacing="0.06" text-anchor="middle">
<text x="202.6" y="633.4">WEST 54 STREET</text>
<text x="203.0" y="833.7">WEST 53 STREET</text>
</g>
<text transform="translate(273.8,713.2) rotate(90)" font-size="11.6" font-weight="bold" fill="#6b4a3c" stroke="#6b4a3c" stroke-width="0.7" letter-spacing="0.1">MoMA</text>
<polygon points="185.7,662.1 218.5,662.1 218.5,707.4 241.8,707.4 241.6,792.3 218.5,792.3 218.5,798.9 186.5,798.9 186.5,791.0 169.9,791.0 169.9,752.7 185.7,752.7" fill="#ffffff" stroke="#9b918b" stroke-width="1.9" />
<polygon points="200.3,707.4 241.8,707.4 241.8,746.1 224.5,746.1 224.5,744.6 217.3,744.6 217.3,738.6 207.4,738.6 207.4,724.7 200.3,724.7" fill="#b7a598" stroke="#a39489" stroke-width="0.8" />
<g font-size="9.5" fill="#5b4f48" stroke="#5b4f48" stroke-width="0.3" letter-spacing="0.62">
<text x="51" y="890.7">212 688 5300</text>
<text x="51" y="903.8">53WEST53.COM</text>
<text x="51" y="925.4">DEVELOPED BY:</text>
<text x="51" y="937.6">PONTIAC LAND GROUP AND HINES</text>
<text x="51" y="962.6">EXCLUSIVE MARKETING &amp; SALES AGENT:</text>
<text x="51" y="974.6">DOUGLAS ELLIMAN DEVELOPMENT MARKETING</text>
</g>
<clipPath id="tclip"><polygon points="69.3,552.1 79.7,555.0 86.0,577.0 91.4,593.4 92.1,602.5 93.0,650.0 94.6,700.0 96.6,741.5 97.3,744.3 100.2,745.7 103.0,754.3 108.8,755.8 118.3,786.8 118.8,811.2 110.7,818.8 103.5,816.4 101.1,819.3 97.3,819.3 80.1,836.0 57.2,829.8 57.4,790.0 58.2,745.0 58.9,700.0 60.2,650.0 62.1,597.3 67.7,597.3 68.6,570.0"/></clipPath>
<polygon points="69.3,552.1 79.7,555.0 86.0,577.0 91.4,593.4 92.1,602.5 93.0,650.0 94.6,700.0 96.6,741.5 97.3,744.3 100.2,745.7 103.0,754.3 108.8,755.8 118.3,786.8 118.8,811.2 110.7,818.8 103.5,816.4 101.1,819.3 97.3,819.3 80.1,836.0 57.2,829.8 57.4,790.0 58.2,745.0 58.9,700.0 60.2,650.0 62.1,597.3 67.7,597.3 68.6,570.0" fill="#ffffff" stroke="#6b5046" stroke-width="0.8" />
<g clip-path="url(#tclip)" stroke="#6b5046" stroke-width="0.55" fill="none">
<polyline points="79.6,552.0 79.8,560.0 79.9,568.0 80.1,576.0 80.2,584.0 80.4,592.0 80.5,600.0 80.7,608.0 80.8,616.0 80.9,624.0 81.1,632.0 81.2,640.0 81.4,648.0 81.5,656.0 81.7,664.0 81.8,672.0 81.9,680.0 82.1,688.0 82.2,696.0 82.3,704.0 82.4,712.0 82.4,720.0 82.4,728.0 82.5,736.0 82.5,744.0 82.6,752.0 82.5,760.0 82.3,768.0 82.0,776.0 81.8,784.0 81.5,792.0 81.3,800.0 81.0,808.0 80.7,816.0 80.5,824.0 80.2,832.0" fill="none" stroke="#6b5046" stroke-width="0.7" />
<polyline points="75.7,552.0 75.7,560.0 75.7,568.0 75.7,576.0 75.6,584.0 75.6,592.0 73.5,600.0 73.5,608.0 73.5,616.0 73.6,624.0 73.6,632.0 73.6,640.0 73.6,648.0 73.7,656.0 73.7,664.0 73.7,672.0 73.7,680.0 73.8,688.0 73.8,696.0 73.8,704.0 73.7,712.0 73.7,720.0 73.7,728.0 73.6,736.0 73.6,744.0 73.6,752.0 73.5,760.0 73.2,768.0 73.0,776.0 72.8,784.0 72.6,792.0 72.4,800.0 72.1,808.0 71.9,816.0 71.7,824.0 71.5,832.0" fill="none" stroke="#6b5046" stroke-width="0.55" />
<polyline points="67.2,600.0 67.1,608.0 67.1,616.0 67.0,624.0 66.9,632.0 66.8,640.0 66.7,648.0 66.6,656.0 66.6,664.0 66.5,672.0 66.4,680.0 66.3,688.0 66.2,696.0 66.1,704.0 66.0,712.0 65.9,720.0 65.8,728.0 65.7,736.0 65.6,744.0 65.5,752.0 65.4,760.0 65.2,768.0 65.0,776.0 64.8,784.0 64.6,792.0 64.4,800.0 64.2,808.0 64.0,816.0 63.8,824.0 63.6,832.0" fill="none" stroke="#6b5046" stroke-width="0.45" />
<polyline points="83.4,576.0 84.7,584.0 86.0,592.0 86.4,600.0 86.6,608.0 86.8,616.0 87.1,624.0 87.3,632.0 87.5,640.0 87.8,648.0 88.0,656.0 88.2,664.0 88.4,672.0 88.7,680.0 88.9,688.0 89.1,696.0 89.3,704.0 89.5,712.0 89.7,720.0 89.9,728.0 90.0,736.0 90.2,744.0 90.2,752.0 90.2,760.0 90.1,768.0 90.0,776.0 89.8,784.0 89.7,792.0 89.6,800.0 89.4,808.0 89.3,816.0 89.2,824.0 89.1,832.0" fill="none" stroke="#6b5046" stroke-width="0.5" />
<line x1="69.3" y1="552.0" x2="75.7" y2="578.0" stroke="#6b5046" stroke-width="0.5" />
<line x1="75.7" y1="552.0" x2="68.4" y2="578.0" stroke="#6b5046" stroke-width="0.5" />
<line x1="75.7" y1="552.0" x2="80.1" y2="578.0" stroke="#6b5046" stroke-width="0.5" />
<line x1="79.6" y1="552.0" x2="75.7" y2="578.0" stroke="#6b5046" stroke-width="0.5" />
<line x1="79.6" y1="552.0" x2="86.7" y2="574.0" stroke="#6b5046" stroke-width="0.5" />
<line x1="78.8" y1="548.0" x2="80.1" y2="578.0" stroke="#6b5046" stroke-width="0.5" />
<line x1="68.4" y1="578.0" x2="73.5" y2="604.0" stroke="#6b5046" stroke-width="0.5" />
<line x1="75.7" y1="578.0" x2="62.0" y2="604.0" stroke="#6b5046" stroke-width="0.5" />
<line x1="75.7" y1="578.0" x2="80.6" y2="604.0" stroke="#6b5046" stroke-width="0.5" />
<line x1="80.1" y1="578.0" x2="73.5" y2="604.0" stroke="#6b5046" stroke-width="0.5" />
<line x1="80.1" y1="578.0" x2="91.8" y2="600.0" stroke="#6b5046" stroke-width="0.5" />
<line x1="86.7" y1="574.0" x2="80.6" y2="604.0" stroke="#6b5046" stroke-width="0.5" />
<polyline points="68.4,578.0 80.1,582.0 86.7,573.0" fill="none" stroke="#6b5046" stroke-width="0.5" />
<line x1="62.0" y1="604.0" x2="73.6" y2="631.0" stroke="#6b5046" stroke-width="0.5" />
<line x1="73.5" y1="604.0" x2="61.4" y2="631.0" stroke="#6b5046" stroke-width="0.5" />
<line x1="73.5" y1="604.0" x2="81.1" y2="631.0" stroke="#6b5046" stroke-width="0.5" />
<line x1="80.6" y1="604.0" x2="73.6" y2="631.0" stroke="#6b5046" stroke-width="0.5" />
<line x1="80.6" y1="604.0" x2="92.9" y2="627.0" stroke="#6b5046" stroke-width="0.5" />
<line x1="91.8" y1="600.0" x2="81.1" y2="631.0" stroke="#6b5046" stroke-width="0.5" />
<line x1="61.4" y1="631.0" x2="73.7" y2="658.0" stroke="#6b5046" stroke-width="0.5" />
<line x1="73.6" y1="631.0" x2="60.8" y2="658.0" stroke="#6b5046" stroke-width="0.5" />
<line x1="73.6" y1="631.0" x2="81.5" y2="658.0" stroke="#6b5046" stroke-width="0.5" />
<line x1="81.1" y1="631.0" x2="73.7" y2="658.0" stroke="#6b5046" stroke-width="0.5" />
<line x1="81.1" y1="631.0" x2="93.9" y2="654.0" stroke="#6b5046" stroke-width="0.5" />
<line x1="92.9" y1="627.0" x2="81.5" y2="658.0" stroke="#6b5046" stroke-width="0.5" />
<polyline points="61.4,631.0 81.1,635.0 92.9,626.0" fill="none" stroke="#6b5046" stroke-width="0.5" />
<line x1="60.8" y1="658.0" x2="73.8" y2="686.0" stroke="#6b5046" stroke-width="0.5" />
<line x1="73.7" y1="658.0" x2="60.2" y2="686.0" stroke="#6b5046" stroke-width="0.5" />
<line x1="73.7" y1="658.0" x2="82.0" y2="686.0" stroke="#6b5046" stroke-width="0.5" />
<line x1="81.5" y1="658.0" x2="73.8" y2="686.0" stroke="#6b5046" stroke-width="0.5" />
<line x1="81.5" y1="658.0" x2="95.0" y2="682.0" stroke="#6b5046" stroke-width="0.5" />
<line x1="93.9" y1="654.0" x2="82.0" y2="686.0" stroke="#6b5046" stroke-width="0.5" />
<line x1="60.2" y1="686.0" x2="73.7" y2="714.0" stroke="#6b5046" stroke-width="0.5" />
<line x1="73.8" y1="686.0" x2="59.6" y2="714.0" stroke="#6b5046" stroke-width="0.5" />
<line x1="73.8" y1="686.0" x2="82.4" y2="714.0" stroke="#6b5046" stroke-width="0.5" />
<line x1="82.0" y1="686.0" x2="73.7" y2="714.0" stroke="#6b5046" stroke-width="0.5" />
<line x1="82.0" y1="686.0" x2="96.1" y2="710.0" stroke="#6b5046" stroke-width="0.5" />
<line x1="95.0" y1="682.0" x2="82.4" y2="714.0" stroke="#6b5046" stroke-width="0.5" />
<polyline points="60.2,686.0 82.0,690.0 95.0,681.0" fill="none" stroke="#6b5046" stroke-width="0.5" />
<line x1="59.6" y1="714.0" x2="73.6" y2="742.0" stroke="#6b5046" stroke-width="0.5" />
<line x1="73.7" y1="714.0" x2="59.1" y2="742.0" stroke="#6b5046" stroke-width="0.5" />
<line x1="73.7" y1="714.0" x2="82.5" y2="742.0" stroke="#6b5046" stroke-width="0.5" />
<line x1="82.4" y1="714.0" x2="73.6" y2="742.0" stroke="#6b5046" stroke-width="0.5" />
<line x1="82.4" y1="714.0" x2="97.2" y2="738.0" stroke="#6b5046" stroke-width="0.5" />
<line x1="96.1" y1="710.0" x2="82.5" y2="742.0" stroke="#6b5046" stroke-width="0.5" />
<line x1="59.1" y1="742.0" x2="73.2" y2="770.0" stroke="#6b5046" stroke-width="0.5" />
<line x1="73.6" y1="742.0" x2="58.5" y2="770.0" stroke="#6b5046" stroke-width="0.5" />
<line x1="73.6" y1="742.0" x2="82.2" y2="770.0" stroke="#6b5046" stroke-width="0.5" />
<line x1="82.5" y1="742.0" x2="73.2" y2="770.0" stroke="#6b5046" stroke-width="0.5" />
<line x1="82.5" y1="742.0" x2="97.3" y2="766.0" stroke="#6b5046" stroke-width="0.5" />
<line x1="97.2" y1="738.0" x2="82.2" y2="770.0" stroke="#6b5046" stroke-width="0.5" />
<polyline points="59.1,742.0 82.5,746.0 97.2,737.0" fill="none" stroke="#6b5046" stroke-width="0.5" />
<line x1="58.5" y1="770.0" x2="72.4" y2="798.0" stroke="#6b5046" stroke-width="0.5" />
<line x1="73.2" y1="770.0" x2="57.9" y2="798.0" stroke="#6b5046" stroke-width="0.5" />
<line x1="73.2" y1="770.0" x2="81.3" y2="798.0" stroke="#6b5046" stroke-width="0.5" />
<line x1="82.2" y1="770.0" x2="72.4" y2="798.0" stroke="#6b5046" stroke-width="0.5" />
<line x1="82.2" y1="770.0" x2="97.3" y2="794.0" stroke="#6b5046" stroke-width="0.5" />
<line x1="97.3" y1="766.0" x2="81.3" y2="798.0" stroke="#6b5046" stroke-width="0.5" />
<line x1="57.9" y1="798.0" x2="71.7" y2="824.0" stroke="#6b5046" stroke-width="0.5" />
<line x1="72.4" y1="798.0" x2="57.3" y2="824.0" stroke="#6b5046" stroke-width="0.5" />
<line x1="72.4" y1="798.0" x2="80.5" y2="824.0" stroke="#6b5046" stroke-width="0.5" />
<line x1="81.3" y1="798.0" x2="71.7" y2="824.0" stroke="#6b5046" stroke-width="0.5" />
<line x1="81.3" y1="798.0" x2="97.3" y2="820.0" stroke="#6b5046" stroke-width="0.5" />
<line x1="97.3" y1="794.0" x2="80.5" y2="824.0" stroke="#6b5046" stroke-width="0.5" />
<polyline points="57.9,798.0 81.3,802.0 97.3,793.0" fill="none" stroke="#6b5046" stroke-width="0.5" />
<line x1="57.3" y1="824.0" x2="71.1" y2="846.0" stroke="#6b5046" stroke-width="0.5" />
<line x1="71.7" y1="824.0" x2="56.9" y2="846.0" stroke="#6b5046" stroke-width="0.5" />
<line x1="71.7" y1="824.0" x2="79.8" y2="846.0" stroke="#6b5046" stroke-width="0.5" />
<line x1="80.5" y1="824.0" x2="71.1" y2="846.0" stroke="#6b5046" stroke-width="0.5" />
<line x1="80.5" y1="824.0" x2="97.3" y2="842.0" stroke="#6b5046" stroke-width="0.5" />
<line x1="97.3" y1="820.0" x2="79.8" y2="846.0" stroke="#6b5046" stroke-width="0.5" />
<polyline points="97.3,744.3 97.3,819.3" fill="none" stroke="#6b5046" stroke-width="0.6" />
<polyline points="100.2,745.7 101.1,819.3" fill="none" stroke="#6b5046" stroke-width="0.5" />
<polyline points="103.0,754.3 103.5,816.4" fill="none" stroke="#6b5046" stroke-width="0.5" />
<polyline points="108.8,755.8 110.7,818.8" fill="none" stroke="#6b5046" stroke-width="0.5" />
<polyline points="110.0,790.5 118.3,786.8" fill="none" stroke="#6b5046" stroke-width="0.5" />
<polyline points="99.0,760.0 101.0,800.0" fill="none" stroke="#6b5046" stroke-width="0.4" />
<polyline points="97.3,770.0 100.8,790.0" fill="none" stroke="#6b5046" stroke-width="0.4" />
</g>
<polygon points="59.5,746.6 82.2,752.6 96.0,740.6 96.3,746.0 82.4,758.8 59.4,752.6" fill="#9a7a6a" stroke="#8a6a5b" stroke-width="0.4"/>
<polygon points="95.0,730.5 96.2,730.0 96.6,737.5 95.4,738.0" fill="#9a7a6a"/>
</g>
</svg>
<div class="disc">
<div>All dimensions and square footages are approximate and subject to normal construction variances and tolerances.</div>
<div>Square footages exceed the usable floor area. Any depictions of personal or condominium property, including without</div>
<div>limitation any interior furniture, equipment, decorations, finishes, fixtures, appliances, furnishings, closet fittings, and</div>
<div>landscaping, are for illustrative purposes only and will not be included as part of the conveyance. Depicted placements</div>
<div>of furniture are for illustrative purposes only and are not coordinated with building systems and/or structural elements.</div>
<div>Sponsor reserves the right to make changes in accordance with the terms of the offering plan. Notwithstanding</div>
<div>anything to the contrary, Sponsor makes no representations except as may be set forth in the offering plan. The</div>
<div>complete offering terms are in an offering plan available from Sponsor. File No. CD14-0230. Sponsor: W2005/Hines</div>
<div class="last">West Fifty-Third Realty, LLC, 53 West 53rd Street, Unit 38C, New York, New York 10019. Equal Housing Opportunity.</div>
</div>
<div class="nts">NOT TO SCALE</div>
</body>
</html>
